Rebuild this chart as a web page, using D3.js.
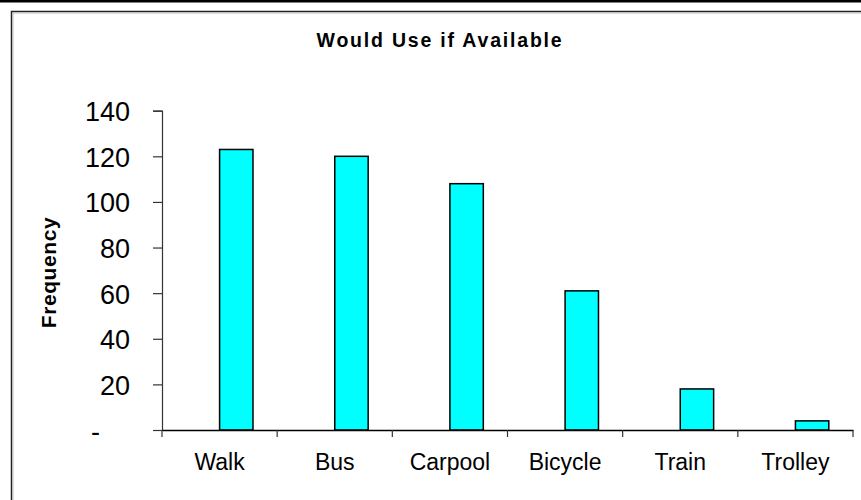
<!DOCTYPE html>
<html>
<head>
<meta charset="utf-8">
<script src="https://cdn.jsdelivr.net/npm/d3@7/dist/d3.min.js"></script>
<style>
  body { margin: 0; background: #fff; }
  svg { display: block; font-family: 'Liberation Sans', Arial, sans-serif; }
</style>
</head>
<body>
<svg id="chart" width="861" height="500"></svg>
<script>
const categories = ['Walk', 'Bus', 'Carpool', 'Bicycle', 'Train', 'Trolley'];
const frequency = [123, 120, 108, 61, 18, 4];
const yTicks = [0, 20, 40, 60, 80, 100, 120, 140];

const chartTitle = 'Would Use if Available';
const yTitle = 'Frequency';

const cs = {
  plot: { left: 162, right: 853, top: 110.7, bottom: 430 },
  bar: { fill: '#00ffff', stroke: '#000' },
};

const svg = d3.select('#chart');
const ds = categories.map((c, i) => ({ dim: c, metric: frequency[i] }));

// page frame: heavy rule on top, chart border on left/top
svg.append('rect').attr('x', 0).attr('y', 0).attr('width', 861).attr('height', 2.5).attr('fill', '#000');
svg.append('path')
  .attr('d', 'M11.5,500 V11.5 H861')
  .attr('fill', 'none').attr('stroke', '#222').attr('stroke-width', 1.5);
svg.append('path')
  .attr('d', 'M13,500 V13 H861')
  .attr('fill', 'none').attr('stroke', '#bbb').attr('stroke-width', 1);

const x = d3.scaleBand()
  .domain(categories)
  .range([cs.plot.left, cs.plot.right])
  .paddingInner(0).paddingOuter(0);

const y = d3.scaleLinear()
  .domain([0, 140])
  .range([cs.plot.bottom, cs.plot.top]);

// bars sit to the right of the band centre (Excel-style)
svg.append('g').selectAll('rect')
  .data(ds)
  .enter()
  .append('rect')
  .attr('x', d => x(d.dim) + x.bandwidth() * 0.5)
  .attr('width', x.bandwidth() * 0.29)
  .attr('y', d => y(d.metric))
  .attr('height', d => y(0) - y(d.metric))
  .attr('fill', cs.bar.fill)
  .attr('stroke', cs.bar.stroke)
  .attr('stroke-width', 1.5);

// y axis
const yAxis = d3.axisLeft(y)
  .tickValues(yTicks)
  .tickSize(9)
  .tickPadding(23)
  .tickFormat(d => (d === 0 ? '-' : d));
const gy = svg.append('g')
  .attr('transform', `translate(${cs.plot.left},0)`)
  .call(yAxis);
gy.select('.domain').attr('stroke', '#333').attr('stroke-width', 1.2);
gy.selectAll('.tick line').attr('stroke', '#333').attr('stroke-width', 1.2);
gy.selectAll('.tick text')
  .attr('font-size', 27)
  .attr('fill', '#000')
  .attr('dy', '0.37em')
  .attr('dx', d => (d === 0 ? -30 : 0));

// x axis
const xAxis = d3.axisBottom(x).tickSize(0).tickSizeOuter(0);
const gx = svg.append('g')
  .attr('transform', `translate(0,${cs.plot.bottom})`)
  .call(xAxis);
gx.select('.domain').attr('stroke', '#000').attr('stroke-width', 1.5);
gx.selectAll('.tick text')
  .attr('font-size', 23)
  .attr('fill', '#000')
  .attr('y', 40)
  .attr('dy', 0);
// tick marks sit on band boundaries
gx.selectAll('.boundary')
  .data(categories.concat(['end']))
  .enter()
  .append('line')
  .attr('class', 'boundary')
  .attr('x1', (d, i) => (i < categories.length ? x(d) : cs.plot.right))
  .attr('x2', (d, i) => (i < categories.length ? x(d) : cs.plot.right))
  .attr('y1', 0)
  .attr('y2', 7)
  .attr('stroke', '#333')
  .attr('stroke-width', 1.2);

// titles
svg.append('text')
  .attr('x', 440)
  .attr('y', 47.3)
  .attr('text-anchor', 'middle')
  .attr('font-size', 19.5)
  .attr('font-weight', 'bold')
  .attr('letter-spacing', 1.8)
  .text(chartTitle);

svg.append('text')
  .attr('transform', 'translate(56,272.5) rotate(-90)')
  .attr('text-anchor', 'middle')
  .attr('font-size', 21)
  .attr('font-weight', 'bold')
  .attr('letter-spacing', 0.6)
  .text(yTitle);
</script>
</body>
</html>
